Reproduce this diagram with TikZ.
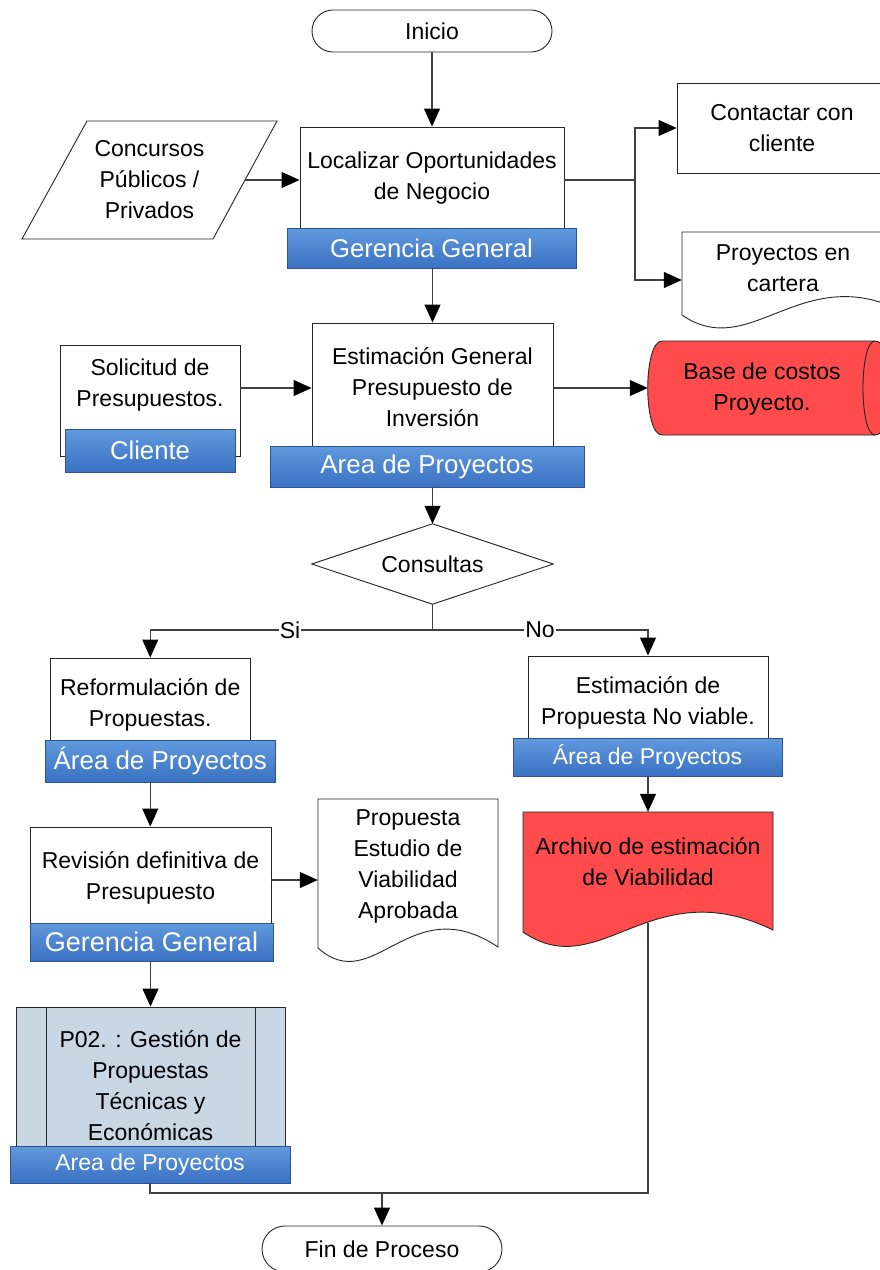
\documentclass[tikz,border=0pt]{standalone}
\usepackage{fontspec}
\setmainfont{Liberation Sans}
\usetikzlibrary{shapes.geometric,arrows.meta}
\definecolor{lbltop}{HTML}{6199DD}
\definecolor{lblbot}{HTML}{3A71C3}
\definecolor{lbldraw}{HTML}{2C5494}
\definecolor{dbred}{HTML}{FF4B4B}
\definecolor{procfill}{HTML}{C9D6E4}
\definecolor{conn}{HTML}{404040}
\begin{document}
\begin{tikzpicture}[x=1pt,y=-1pt,
  every node/.style={inner sep=0pt},
  txt/.style={font=\fontsize{23}{31}\selectfont, align=center},
  box/.style={draw=black!85, fill=white, line width=0.9pt},
  lbl/.style={draw=lbldraw, top color=lbltop, bottom color=lblbot, text=white, align=center, line width=0.9pt},
  arr/.style={draw=conn, line width=1.1pt, -{Triangle[length=18pt,width=16pt,color=black]}},
  ln/.style={draw=conn, line width=1.1pt},
  shp/.style={draw=black!85, line width=0.9pt},
  term/.style={box, rounded corners=21pt},
  yesno/.style={txt, fill=white, inner sep=1pt}
]
\useasboundingbox (0,0) rectangle (880,1270);
\clip (0,0) rectangle (880,1270);
\fill[white] (0,0) rectangle (880,1270);

% Inicio
\node[term, minimum width=240, minimum height=42, txt] (inicio) at (432,31) {Inicio};

% Localizar
\node[box, minimum width=264, minimum height=106] (loc) at (432,180) {};
\node[txt] (locT) at (432,178) {Localizar Oportunidades\\de Negocio};
\node[lbl, minimum width=289, minimum height=40, font=\fontsize{25.7}{30}\selectfont] (locL) at (431.5,248) {Gerencia General};

% Concursos
\draw[shp, fill=white] (87,121) -- (277,121) -- (213,239) -- (22,239) -- cycle;
\node[txt] (conc) at (149.5,180) {Concursos\\Públicos /\\Privados};
\coordinate (concR) at (245,180);

% Contactar
\node[box, minimum width=210, minimum height=90] (cont) at (782,128) {};
\node[txt] (contT) at (782,128) {Contactar con\\cliente};

% Cartera
\node[minimum width=218, minimum height=96] (cart) at (791,280) {};
\draw[shp, fill=white] (682,232) -- (900,232) -- (900,310) .. controls (800,262) and (750,362) .. (682,315) -- cycle;
\node[txt] (cartT) at (783,268) {Proyectos en\\cartera};

% Solicitud
\node[box, minimum width=180, minimum height=111] (sol) at (150,400.5) {};
\node[txt] (solT) at (150,385) {Solicitud de\\Presupuestos.};
\node[lbl, minimum width=170, minimum height=43, font=\fontsize{25.7}{30}\selectfont] (solL) at (150,450.5) {Cliente};

% Estimacion
\node[box, minimum width=241, minimum height=130] (est) at (432.5,388) {};
\node[txt] (estT) at (432.5,387) {Estimación General\\Presupuesto de\\Inversión};
\node[lbl, minimum width=314, minimum height=41, font=\fontsize{25.9}{30}\selectfont] (estL) at (427,466.5) {Area de Proyectos};

% Base de costos
\node[minimum width=240, minimum height=94] (base) at (768,388) {};
\draw[shp, fill=dbred] (662,341) -- (875,341) .. controls (897,341) and (897,435) .. (875,435) -- (662,435) .. controls (643,435) and (643,341) .. (662,341) -- cycle;
\draw[shp] (875,341) .. controls (859,341) and (859,435) .. (875,435);
\node[txt] (baseT) at (762,389) {Base de costos\\Proyecto.};

% Consultas
\node[minimum width=241, minimum height=80] (cons) at (432.5,564) {};
\draw[shp, fill=white] (cons.north) -- (cons.east) -- (cons.south) -- (cons.west) -- cycle;
\node[txt] (consT) at (432.5,564) {Consultas};
\coordinate (br) at (432.5,630);

% Reformulacion
\node[box, minimum width=199.5, minimum height=102] (ref) at (150.25,709) {};
\node[txt] (refT) at (150.25,705) {Reformulación de\\Propuestas.};
\node[lbl, minimum width=229.5, minimum height=42, font=\fontsize{25.9}{30}\selectfont] (refL) at (160.25,761) {Área de Proyectos};

% No viable
\node[box, minimum width=240, minimum height=104] (npv) at (648,708) {};
\node[txt] (npvT) at (648,703) {Estimación de\\Propuesta No viable.};
\node[lbl, minimum width=269, minimum height=38, font=\fontsize{23}{28}\selectfont] (npvL) at (647.5,757) {Área de Proyectos};

% Archivo
\node[minimum width=250, minimum height=111] (arch) at (648,867.5) {};
\draw[shp, fill=dbred] (523,812) -- (773,812) -- (773,930) .. controls (650,870) and (600,985) .. (523,932) -- cycle;
\node[txt] (archT) at (648,862) {Archivo de estimación\\de Viabilidad};

% Revision
\node[box, minimum width=241, minimum height=106] (rev) at (150.5,880) {};
\node[txt] (revT) at (150.5,878) {Revisión definitiva de\\Presupuesto};
\node[lbl, minimum width=243, minimum height=38, font=\fontsize{27}{30}\selectfont] (revL) at (151.5,942) {Gerencia General};

% Propuesta
\node[minimum width=180, minimum height=149] (prop) at (408,873.5) {};
\draw[shp, fill=white] (318,799) -- (498,799) -- (498,947) .. controls (410,888) and (374,998) .. (318,948) -- cycle;
\node[txt] (propT) at (408,866) {Propuesta\\Estudio de\\Viabilidad\\Aprobada};

% P02
\node[box, fill=procfill, minimum width=269, minimum height=166] (p02) at (150.5,1090) {};
\draw[shp] (46,1007) -- (46,1146) (255,1007) -- (255,1146);
\node[txt] (p02T) at (150.5,1086) {P02. : Gestión de\\Propuestas\\Técnicas y\\Económicas};
\node[lbl, minimum width=280, minimum height=37, font=\fontsize{23}{28}\selectfont] (p02L) at (150,1164.5) {Area de Proyectos};

% Fin
\node[term, rounded corners=23pt, minimum width=240, minimum height=46, txt] (fin) at (382,1249) {Fin de Proceso};

% Connectors
\draw[arr] (inicio.south) -- (loc.north);
\draw[arr] (concR) -- (concR -| loc.west);
\coordinate (sp) at (635,180);
\draw[ln] (loc.east) -- (sp);
\draw[arr] (sp) |- (cont.west);
\draw[arr] (sp) |- (cart.west);
\draw[arr] (locL.south -| est.north) -- (est.north);
\draw[arr] (sol.east |- est.west) -- (est.west);
\draw[arr] (est.east) -- (base.west);
\draw[arr] (estL.south -| cons.north) -- (cons.north);
\draw[ln] (cons.south) -- (br);
\draw[arr] (br) -| (ref.north);
\draw[arr] (br) -| (npv.north);
\node[yesno] (si) at (290,630) {Si};
\node[yesno] (no) at (540,630) {No};
\draw[arr] (refL.south -| ref.south) -- (ref.south |- rev.north);
\draw[arr] (rev.east) -- (rev.east -| prop.west);
\draw[arr] (npvL.south -| arch.north) -- (arch.north);
\draw[arr] (revL.south -| p02.north) -- (p02.north);
\coordinate (m1) at (150,1193);
\coordinate (m2) at (648,1193);
\coordinate (m3) at (382,1193);
\draw[ln] (p02L.south) -- (m1) -- (m2) -- (arch.south);
\draw[arr] (m3) -- (fin.north);
\end{tikzpicture}
\end{document}
